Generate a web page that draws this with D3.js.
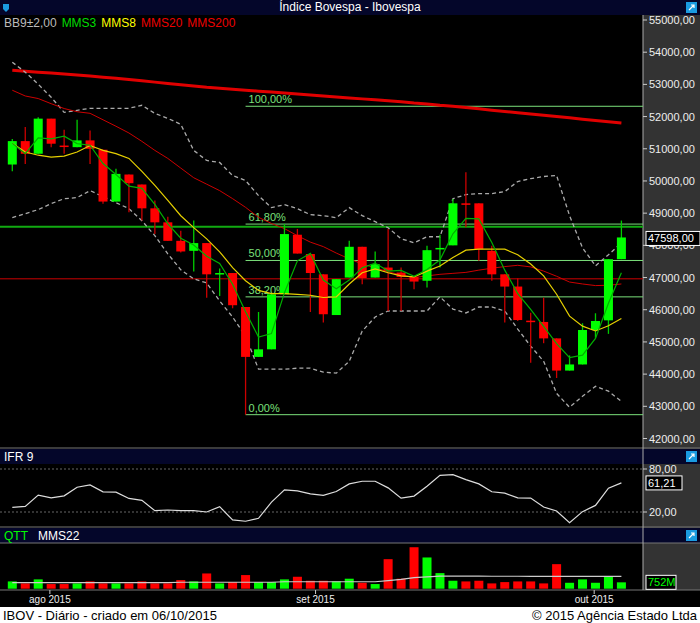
<!DOCTYPE html>
<html><head><meta charset="utf-8">
<script src="https://cdn.jsdelivr.net/npm/d3@7/dist/d3.min.js"></script>
<style>body{margin:0;background:#000}svg{display:block}text{font-family:"Liberation Sans",Arial,sans-serif}</style>
</head><body><svg id="c" width="700" height="623"></svg>
<script>
const opens  =[50511,51238,50845,51936,51100,51050,51260,50970,49360,50200,49890,49150,48715,48140,47830,48070,47110,47140,46085,44535,44770,46480,48330,47730,47100,45835,47000,47955,47000,47310,47155,47020,46900,47880,48000,49305,49305,47830,47100,46720,45660,45620,45110,44110,44300,45370,45670,47570];
const closes =[51238,50845,51936,51157,51070,51260,51000,49360,50220,49930,49150,48715,48140,47810,48070,47100,47140,46140,44535,44770,46480,48350,47745,47140,45860,46950,47955,46985,47415,47210,47020,46875,47850,47920,49305,49290,47880,47100,46720,45680,45640,45110,44110,44300,45370,45650,47570,48245];
const highs  =[51300,51674,51977,51936,51593,51905,51570,50970,50380,50200,49890,49390,48890,48455,48770,48070,47280,47140,46085,45930,46480,48660,48510,47730,47100,46950,48140,47955,47810,48510,47310,47020,47990,48330,49440,50270,49305,47990,47100,46980,45910,46375,45110,44580,45580,45890,47570,48770];
const lows   =[50302,50525,50845,51050,50845,51050,50530,49290,49360,49025,48770,48350,48140,47780,47185,46375,46430,46045,42740,44535,44770,46480,47745,45930,45600,45835,47000,46790,47000,45960,45960,46640,46690,47310,48000,48560,47520,46900,45600,45650,44350,44960,43880,44110,44300,45130,45250,47570];
const mms3   =[51170,50850,51340,51310,51390,51160,51110,50540,50200,49840,49770,49270,48670,48220,48010,47660,47440,46790,45940,45150,45260,46530,47520,47750,46920,46650,46920,47300,47450,47200,47220,47040,47250,47550,48360,48840,48820,48090,47230,46500,46010,45480,44950,44510,44590,45110,46200,47150];
const mms8   =[51175,50900,50800,50740,50770,50900,51100,50950,50850,50700,50300,49860,49400,48920,48550,48200,47800,47310,46900,46600,46500,46500,46480,46450,46380,46400,46800,47150,47270,47150,47050,47020,47200,47360,47620,47850,47880,47880,47880,47710,47420,47050,46480,45800,45490,45340,45500,45730];
const mms20  =[52818,52640,52560,52400,52250,52150,52101,51900,51700,51490,51230,50950,50700,50400,50100,49900,49700,49450,49180,48870,48680,48520,48300,48100,47960,47760,47580,47420,47300,47180,47080,47000,47050,47100,47130,47160,47230,47290,47340,47380,47330,47200,47040,46860,46800,46750,46760,46800];
const mms200 =[53440,53410,53380,53350,53320,53290,53260,53225,53190,53150,53110,53070,53030,52990,52950,52910,52880,52850,52820,52790,52760,52730,52700,52670,52640,52610,52580,52550,52520,52490,52460,52420,52390,52350,52320,52280,52240,52200,52160,52120,52080,52040,52000,51960,51920,51880,51840,51800];
const bbUp   =[53690,53380,53005,52600,52132,52195,52257,52257,52257,52257,52350,52100,51945,51758,50948,50636,50574,50169,50013,49545,49171,49265,49140,48953,48922,48860,49171,48922,48735,48548,48205,48080,48267,48267,49450,49576,49607,49607,49670,49982,50075,50137,50169,48922,47924,47363,47706,48080];
const bbLo   =[48860,48984,49110,49296,49450,49483,49700,49514,49327,49140,48766,48300,47737,47240,46958,46833,46272,45774,45180,44153,44153,44153,44184,44184,44060,44030,44400,45337,45774,45960,45960,45960,45960,46400,46020,45900,46085,46085,45960,45400,44870,44400,43400,42970,43310,43620,43470,43155];
const ifr    =[26.5,27.8,43.5,39.8,42.6,54.6,57.8,48.2,47.7,38.9,36.2,21.8,22.8,21.8,21.8,20,27.4,8.9,7.1,11.2,33.8,50.9,49.5,45.4,43.1,48.6,59.2,62.9,62.9,53.7,39.4,42.2,56,71.2,72.2,65.2,59.2,48.2,46.3,39.8,39.4,26.9,21.4,5.2,20.5,29.2,53.2,60.6];
const volume =[860,625,1100,550,550,625,860,625,625,625,860,625,625,1020,860,1800,625,780,1610,780,780,1100,1410,940,940,860,1180,700,550,3490,1180,4900,3690,1840,940,860,940,625,780,860,860,625,2900,700,1100,700,1490,752];
const mms22  =[720,720,720,720,720,720,720,720,720,720,720,720,720,760,760,760,760,760,760,760,760,820,820,820,820,820,820,820,820,950,1100,1300,1400,1480,1480,1480,1480,1470,1470,1470,1460,1460,1460,1460,1450,1450,1450,1450];
const priceTicks=[55000,54000,53000,52000,51000,50000,49000,48000,47000,46000,45000,44000,43000,42000];
const fibLevels=[0,0.382,0.5,0.618,1];
const fibLabels=["0,00%","38,20%","50,00%","61,80%","100,00%"];
const fibLow=42740, fibHigh=52320, fibStart=18;
const hLineGreen=48580, hLineRed=46960;
const xTickPos=[2.9,23.4,44.9], xTickLabels=["ago 2015","set 2015","out 2015"];
const ifrTicks=[80,20];
const lastLabel="47598,00", lastIfr="61,21", lastVol="752M";

const svg=d3.select("#c");
const W=643, n=closes.length;
const x=d3.scaleLinear().domain([0,n-1]).range([12.3,621.4]);
const y=d3.scaleLinear().domain([42000,55000]).range([438.5,20]);
const yI=d3.scaleLinear().domain([20,80]).range([512,469]);
const yV=d3.scaleLinear().domain([0,5400]).range([588.7,543]);
const fmt=v=>d3.format(".2f")(v).replace(".",",");
const GREEN="#00ff00", RED="#ff0000";

svg.append("rect").attr("width",700).attr("height",623).attr("fill","#000");
svg.append("rect").attr("x",W).attr("y",15).attr("width",57).attr("height",575).attr("fill","#333");
function header(y0,h){svg.append("rect").attr("x",0).attr("y",y0).attr("width",700).attr("height",h).attr("fill","#04062a");
 svg.append("rect").attr("x",686).attr("y",y0+2).attr("width",11).attr("height",11).attr("fill","#1a9be0");
 svg.append("path").attr("d",`M689,${y0+10}L694,${y0+5}M691,${y0+5}h3v3`).attr("stroke","#fff").attr("stroke-width",1.2).attr("fill","none");}
header(0,15);header(449,15);header(528,15);
svg.append("path").attr("d","M3,4h6v5l-3,3l-3,-3z").attr("fill","#1a9be0");
svg.append("text").attr("x",350).attr("y",11).attr("text-anchor","middle").attr("fill","#fff").attr("font-size",12).text("Índice Bovespa - Ibovespa");
[448,527,543,590].forEach(v=>svg.append("line").attr("x1",0).attr("x2",700).attr("y1",v).attr("y2",v).attr("stroke","#777"));
svg.append("line").attr("x1",W).attr("x2",W).attr("y1",15).attr("y2",590).attr("stroke","#aaa");

const leg=[["BB9±2,00","#bbb"],["MMS3","#00dd00"],["MMS8","#ffff00"],["MMS20","#ee0000"],["MMS200","#ee0000"]];
const lt=svg.append("text").attr("x",4).attr("y",27).attr("font-size",12);
leg.forEach(([t,c],i)=>lt.append("tspan").attr("fill",c).attr("dx",i?5:0).text(t));
svg.append("text").attr("x",4).attr("y",461).attr("font-size",12).attr("fill","#fff").text("IFR 9");
const qt=svg.append("text").attr("x",4).attr("y",540).attr("font-size",12);
qt.append("tspan").attr("fill",GREEN).text("QTT");qt.append("tspan").attr("fill","#fff").attr("dx",10).text("MMS22");

const pa=svg.append("g");
priceTicks.forEach(p=>{pa.append("line").attr("x1",W).attr("x2",W+4).attr("y1",y(p)).attr("y2",y(p)).attr("stroke","#ccc");
 pa.append("text").attr("x",W+6).attr("y",y(p)+4).attr("fill","#eee").attr("font-size",11).text(fmt(p));});

const main=svg.append("g");
main.append("clipPath").attr("id","cp").append("rect").attr("x",0).attr("y",15).attr("width",W).attr("height",433);
const g=main.append("g").attr("clip-path","url(#cp)");
g.append("line").attr("x1",0).attr("x2",W).attr("y1",y(hLineGreen)).attr("y2",y(hLineGreen)).attr("stroke","#11aa11").attr("stroke-width",2);
g.append("line").attr("x1",0).attr("x2",W).attr("y1",y(hLineRed)).attr("y2",y(hLineRed)).attr("stroke","#cc0000").attr("stroke-width",1);
fibLevels.forEach((f,i)=>{const p=fibLow+f*(fibHigh-fibLow);
 g.append("line").attr("x1",x(fibStart)).attr("x2",W).attr("y1",y(p)).attr("y2",y(p)).attr("stroke","#7be07b").attr("stroke-width",1);
 g.append("text").attr("x",x(fibStart)+3).attr("y",y(p)-3).attr("fill","#7be07b").attr("font-size",11).text(fibLabels[i]);});
const line=arr=>d3.line().x((d,i)=>x(i)).y(d=>y(d))(arr);
g.append("path").attr("d",line(mms200)).attr("stroke","#e00000").attr("stroke-width",3).attr("fill","none");
g.append("path").attr("d",line(bbUp)).attr("stroke","#aaa").attr("stroke-width",1.3).attr("stroke-dasharray","4,3").attr("fill","none");
g.append("path").attr("d",line(bbLo)).attr("stroke","#aaa").attr("stroke-width",1.3).attr("stroke-dasharray","4,3").attr("fill","none");
g.append("path").attr("d",line(mms20)).attr("stroke","#cc0000").attr("stroke-width",1).attr("fill","none");
closes.forEach((c,i)=>{const o=opens[i],col=c>=o?GREEN:RED,cx=x(i);
 g.append("line").attr("x1",cx).attr("x2",cx).attr("y1",y(highs[i])).attr("y2",y(lows[i])).attr("stroke",c>=o?"#00cc00":"#cc0000").attr("stroke-width",1.3);
 const t=y(Math.max(o,c)),b=y(Math.min(o,c));
 g.append("rect").attr("x",cx-4.5).attr("y",t).attr("width",9).attr("height",Math.max(1.5,b-t)).attr("fill",col);});
g.append("path").attr("d",line(mms8)).attr("stroke","#e6d000").attr("stroke-width",1.2).attr("fill","none");
g.append("path").attr("d",line(mms3)).attr("stroke","#00b000").attr("stroke-width",1.2).attr("fill","none");
svg.append("rect").attr("x",W+3).attr("y",y(closes[n-1])-6).attr("width",54).attr("height",14).attr("fill","#000").attr("stroke","#fff");
svg.append("text").attr("x",W+5).attr("y",y(closes[n-1])+5).attr("fill","#fff").attr("font-size",11).text(lastLabel);

ifrTicks.forEach(v=>{svg.append("line").attr("x1",0).attr("x2",W).attr("y1",yI(v)).attr("y2",yI(v)).attr("stroke","#666").attr("stroke-dasharray","2,2");
 svg.append("line").attr("x1",W).attr("x2",W+4).attr("y1",yI(v)).attr("y2",yI(v)).attr("stroke","#ccc");
 svg.append("text").attr("x",W+6).attr("y",yI(v)+4).attr("fill","#eee").attr("font-size",11).text(fmt(v));});
svg.append("path").attr("d",d3.line().x((d,i)=>x(i)).y(d=>yI(d))(ifr)).attr("stroke","#ddd").attr("stroke-width",1.2).attr("fill","none");
svg.append("rect").attr("x",W+3).attr("y",yI(ifr[n-1])-7).attr("width",36).attr("height",14).attr("fill","#000").attr("stroke","#fff");
svg.append("text").attr("x",W+5).attr("y",yI(ifr[n-1])+4).attr("fill","#fff").attr("font-size",11).text(lastIfr);

volume.forEach((v,i)=>{svg.append("rect").attr("x",x(i)-4.5).attr("y",yV(v)).attr("width",9).attr("height",yV(0)-yV(v)).attr("fill",closes[i]>=opens[i]?GREEN:RED);});
svg.append("path").attr("d",d3.line().x((d,i)=>x(i)).y(d=>yV(d))(mms22)).attr("stroke","#ccc").attr("stroke-width",1.2).attr("fill","none");
svg.append("rect").attr("x",W+3).attr("y",yV(volume[n-1])-7).attr("width",30).attr("height",14).attr("fill","#000").attr("stroke","#fff");
svg.append("text").attr("x",W+5).attr("y",yV(volume[n-1])+4).attr("fill",GREEN).attr("font-size",11).text(lastVol);

xTickPos.forEach((p,i)=>{svg.append("line").attr("x1",x(p)).attr("x2",x(p)).attr("y1",590).attr("y2",594).attr("stroke","#ccc");
 svg.append("text").attr("x",x(p)).attr("y",603).attr("text-anchor","middle").attr("fill","#eee").attr("font-size",10).text(xTickLabels[i]);});
svg.append("rect").attr("x",0).attr("y",607).attr("width",700).attr("height",16).attr("fill","#fff");
svg.append("text").attr("x",3).attr("y",620).attr("font-size",13).attr("fill","#000").text("IBOV - Diário - criado em 06/10/2015");
svg.append("text").attr("x",697).attr("y",620).attr("text-anchor","end").attr("font-size",13).attr("fill","#000").text("© 2015 Agência Estado Ltda");
</script></body></html>
